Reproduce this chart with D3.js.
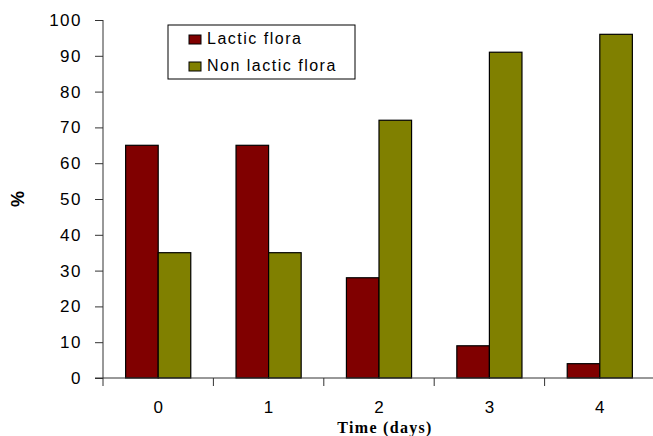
<!DOCTYPE html>
<html>
<head>
<meta charset="utf-8">
<script src="https://cdn.jsdelivr.net/npm/d3@7"></script>
<style>
  body { margin: 0; background: #fff; }
  svg { display: block; }
</style>
</head>
<body>
<div id="chart"></div>
<script>
// data
const days = ["0", "1", "2", "3", "4"];
const seriesNames = ["Lactic flora", "Non lactic flora"];
const lactic = [65, 65, 28, 9, 4];
const nonLactic = [35, 35, 72, 91, 96];
const yTicks = [0, 10, 20, 30, 40, 50, 60, 70, 80, 90, 100];
const colors = ["#800000", "#808000"];

const W = 653, H = 436;
const margin = { top: 20, right: -2, bottom: 58, left: 103 };
const width = W - margin.left - margin.right,
    height = H - margin.top - margin.bottom;

const svg = d3.select("#chart")
    .append("svg")
    .attr("width", W)
    .attr("height", H);

const g = svg.append("g")
    .attr("transform", "translate(" + margin.left + "," + margin.top + ")");

const x = d3.scaleBand()
    .domain(days)
    .range([0, width])
    .padding(0);

const x1 = d3.scaleBand()
    .domain(seriesNames)
    .range([x.bandwidth() * 0.205, x.bandwidth() * 0.795]);

const y = d3.scaleLinear()
    .domain([0, 100])
    .range([height, 0]);

// bars
const values = [lactic, nonLactic];
seriesNames.forEach(function (name, s) {
    g.selectAll(".bar" + s)
        .data(days)
        .enter()
        .append("rect")
        .attr("x", d => x(d) + x1(name))
        .attr("y", (d, i) => y(values[s][i]))
        .attr("width", x1.bandwidth())
        .attr("height", (d, i) => y(0) - y(values[s][i]))
        .attr("fill", colors[s])
        .attr("stroke", "#000")
        .attr("stroke-width", 1.2);
});

// y axis
const yAxis = g.append("g")
    .call(d3.axisLeft(y).tickValues(yTicks).tickSize(8).tickPadding(13));
yAxis.select(".domain").attr("stroke", "#333").attr("d", "M0," + height + "V0");
yAxis.selectAll(".tick line").attr("stroke", "#333");
yAxis.selectAll("text")
    .attr("font-family", "Liberation Sans, Arial, sans-serif")
    .attr("font-size", 17)
    .attr("letter-spacing", 1.5)
    .attr("fill", "#000");

// x axis
const xAxis = g.append("g")
    .attr("transform", "translate(0," + height + ")")
    .call(d3.axisBottom(x).tickSize(0).tickPadding(23));
xAxis.select(".domain").attr("stroke", "#333").attr("d", "M-8,0H" + width);
xAxis.selectAll("text")
    .attr("font-family", "Liberation Sans, Arial, sans-serif")
    .attr("font-size", 17)
    .attr("fill", "#000");
// boundary ticks between categories
g.selectAll(".sep")
    .data(days.concat(["end"]))
    .enter()
    .append("line")
    .attr("x1", (d, i) => i * x.step())
    .attr("x2", (d, i) => i * x.step())
    .attr("y1", height)
    .attr("y2", height + 8)
    .attr("stroke", "#333");

// axis titles
svg.append("text")
    .attr("x", 385)
    .attr("y", 433)
    .attr("text-anchor", "middle")
    .attr("font-family", "Liberation Serif, Times New Roman, serif")
    .attr("font-weight", "bold")
    .attr("font-size", 16)
    .attr("letter-spacing", 1.3)
    .text("Time (days)");

svg.append("text")
    .attr("transform", "translate(24,199) rotate(-90)")
    .attr("text-anchor", "middle")
    .attr("font-family", "Liberation Sans, Arial, sans-serif")
    .attr("font-weight", "bold")
    .attr("font-size", 18)
    .text("%");

// legend
const legend = svg.append("g").attr("transform", "translate(168,25)");
legend.append("rect")
    .attr("width", 187)
    .attr("height", 54)
    .attr("fill", "#fff")
    .attr("stroke", "#000")
    .attr("stroke-width", 1);
seriesNames.forEach(function (name, s) {
    legend.append("rect")
        .attr("x", 21)
        .attr("y", 10 + s * 27)
        .attr("width", 12)
        .attr("height", 9)
        .attr("fill", colors[s])
        .attr("stroke", "#000");
    legend.append("text")
        .attr("x", 39)
        .attr("y", 19 + s * 27)
        .attr("font-family", "Liberation Sans, Arial, sans-serif")
        .attr("font-size", 16)
        .attr("letter-spacing", 1.5)
        .text(name);
});
</script>
</body>
</html>
